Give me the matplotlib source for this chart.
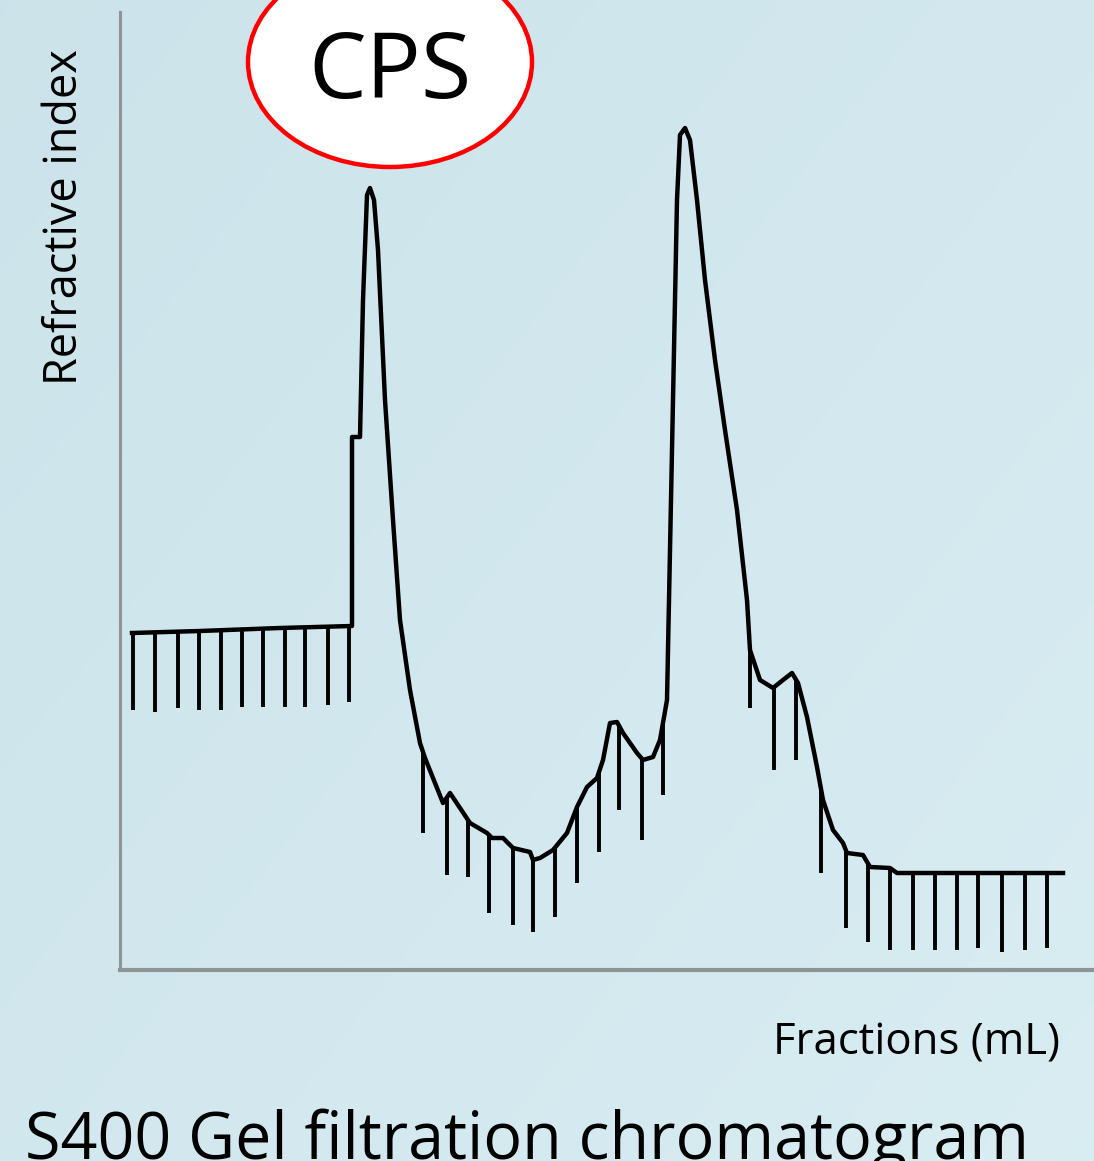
import numpy as np
import matplotlib
matplotlib.use("Agg")
import matplotlib.pyplot as plt
from matplotlib.patches import Ellipse

plt.rcParams['font.family'] = ['Open Sans', 'DejaVu Sans']

# refractive index trace (x: fraction volume, y: detector signal, arbitrary units)
trace_x = [1.2, 8.0, 16.0, 23.2, 23.2, 24.0, 24.3, 24.7, 25.0, 25.4, 25.8, 26.5, 27.3, 28.0,
           29.0, 30.0, 30.5, 32.3, 33.0, 35.0, 36.7, 37.2, 38.3, 39.3, 41.0, 41.3, 42.0, 43.3,
           44.7, 45.7, 46.7, 47.7, 48.3, 49.0, 49.7, 50.3, 51.7, 52.3, 53.3, 54.0, 54.7, 55.0,
           55.4, 55.7, 56.0, 56.5, 57.0, 57.7, 58.5, 59.5, 60.5, 61.7, 62.7, 63.0, 64.0, 65.3,
           66.3, 67.2, 67.8, 68.7, 69.7, 70.3, 71.3, 72.3, 72.7, 74.3, 75.0, 77.0, 77.7, 94.3]
trace_y = [33.7, 33.9, 34.2, 34.4, 53.3, 53.3, 67.0, 77.5, 78.2, 77.0, 72.0, 57.0, 45.0, 35.0,
           28.0, 22.7, 21.2, 16.7, 17.7, 14.7, 13.7, 13.2, 13.2, 12.2, 11.8, 11.0, 11.2, 12.0,
           13.7, 16.3, 18.3, 19.2, 21.0, 24.7, 24.8, 23.7, 21.7, 21.0, 21.3, 23.0, 27.0, 42.0,
           62.0, 77.0, 83.5, 84.2, 83.0, 77.0, 69.0, 61.0, 54.0, 46.0, 37.0, 32.0, 29.0, 28.2,
           29.0, 29.7, 28.7, 25.3, 20.3, 17.0, 14.0, 12.7, 11.7, 11.5, 10.3, 10.2, 9.7, 9.7]

# fraction collector marks: position and lower end
frac_x = [1.3, 3.5, 5.8, 7.9, 10.1, 12.2, 14.3, 16.5, 18.5, 20.8, 22.9,
          30.3, 32.7, 34.8, 36.9, 39.3, 41.3, 43.5, 45.7, 47.9, 49.9, 52.2, 54.3,
          63.0, 65.4, 67.6, 70.1, 72.6, 74.8, 77.0, 79.3, 81.5, 83.7, 85.8, 88.2, 90.5, 92.7]
frac_low = [26.0, 25.8, 26.2, 26.0, 26.0, 26.3, 26.3, 26.3, 26.3, 26.5, 26.8,
            13.7, 9.5, 9.3, 5.7, 4.5, 3.8, 5.3, 8.7, 11.8, 16.0, 13.0, 17.5,
            26.2, 20.0, 21.0, 9.7, 4.2, 2.8, 2.0, 2.0, 2.0, 2.0, 2.2, 1.8, 2.0, 2.2]

W, H = 1094, 1161
fig = plt.figure(figsize=(W / 100, H / 100), dpi=100)

# light blue slide background
bg = fig.add_axes([0, 0, 1, 1], zorder=-10)
gy, gx = np.mgrid[0:1:200j, 0:1:200j]
shade = 0.55 * gx + 0.45 * gy
c0 = np.array([0.80, 0.89, 0.92])
c1 = np.array([0.85, 0.93, 0.95])
img = c0[None, None, :] * (1 - shade[..., None]) + c1[None, None, :] * shade[..., None]
bg.imshow(img, aspect='auto', extent=[0, 1, 0, 1], origin='upper')
bg.axis('off')

ax = fig.add_axes([120 / W, (H - 970) / H, 974 / W, 958 / H])
ax.patch.set_alpha(0)
ax.set_xlim(0, 97.4)
ax.set_ylim(0, 95.8)

ax.plot(trace_x, trace_y, color='black', lw=3.2, solid_joinstyle='round')
frac_top = np.interp(frac_x, trace_x, trace_y)
ax.vlines(frac_x, frac_low, frac_top, color='black', lw=2.8)

for s in ['top', 'right']:
    ax.spines[s].set_visible(False)
ax.spines['left'].set_color('#8e9396')
ax.spines['left'].set_linewidth(2.2)
ax.spines['bottom'].set_color('#8e9396')
ax.spines['bottom'].set_linewidth(3)
ax.set_xticks([])
ax.set_yticks([])

fig.text(65 / W, 1 - 217 / H, 'Refractive index', rotation=90, fontsize=32.5,
         ha='center', va='center')
fig.text(1060 / W, 1 - 1055 / H, 'Fractions (mL)', fontsize=31.5, ha='right', va='baseline')
fig.text(25 / W, 1 - 1159 / H, 'S400 Gel filtration chromatogram', fontsize=46.5,
         ha='left', va='baseline')

oval = Ellipse((390 / W, 1 - 62 / H), 284 / W, 210 / H, transform=fig.transFigure,
               facecolor='white', edgecolor='#ff0000', lw=3.2, zorder=5)
fig.add_artist(oval)
fig.text(390 / W, 1 - 98 / H, 'CPS', fontsize=66, ha='center', va='baseline', zorder=6)

fig.savefig('out.png', dpi=100)
